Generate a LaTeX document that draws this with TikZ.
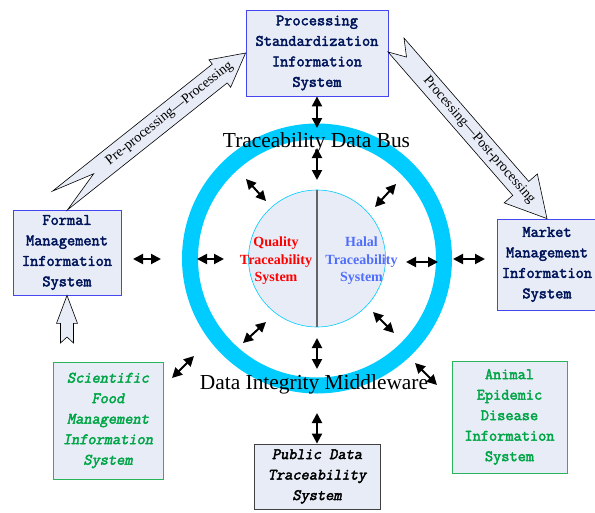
\documentclass[tikz,border=0pt]{standalone}
\usepackage{fontspec}
\setmainfont{Liberation Serif}
\newfontfamily\boxfam{Latin Modern Mono}[AutoFakeBold=2.6,AutoFakeSlant=0.2]
\usetikzlibrary{calc,arrows.meta}
\definecolor{boxfill}{RGB}{231,236,247}
\definecolor{boxblue}{RGB}{70,70,240}
\definecolor{navy}{RGB}{0,20,90}
\definecolor{boxgreen}{RGB}{40,180,90}
\definecolor{txtgreen}{RGB}{0,165,70}
\definecolor{ringcyan}{RGB}{0,204,255}
\definecolor{halalblue}{RGB}{80,110,250}
\definecolor{divgray}{RGB}{100,100,100}
\newcommand{\boxfnt}{\boxfam\bfseries\fontsize{15.9}{20.5}\selectfont}
\newcommand{\fatarrow}[6]{%
  \coordinate (fa-h) at ($(#2)!#4!(#1)$);
  \coordinate (fa-n) at ($(#1)!#6!(#2)$);
  \draw[fatarr] ($(#1)!#3!90:(#2)$) -- ($(fa-h)!#3!90:(#2)$) -- ($(fa-h)!#5!90:(#2)$) -- (#2)
     -- ($(fa-h)!#5!-90:(#2)$) -- ($(fa-h)!#3!-90:(#2)$) -- ($(#1)!#3!-90:(#2)$) -- (fa-n) -- cycle;}
\begin{document}
\begin{tikzpicture}[x=1pt,y=-1pt,
  sysbox/.style={draw=boxblue, fill=boxfill, line width=0.8pt, text=navy, font=\boxfnt, align=center, inner sep=0pt},
  greenbox/.style={sysbox, draw=boxgreen, text=txtgreen},
  graybox/.style={sysbox, draw=black!75, text=black},
  fatarr/.style={draw=black, fill=boxfill, line width=0.6pt, line join=miter},
  dbl/.style={{Triangle[length=10pt,width=10pt]}-{Triangle[length=10pt,width=10pt]}, line width=2pt},
  arrtext/.style={font=\fontsize{14}{14}\selectfont, sloped, inner sep=0pt},
  biglabel/.style={font=\fontsize{21.4}{24}\selectfont, inner sep=0pt, anchor=base},
  corelabel/.style={font=\bfseries\fontsize{14}{17.5}\selectfont, align=center, inner sep=0pt}]
\useasboundingbox (0,0) rectangle (595,512);

% ring and core
\coordinate (c) at (317,258.5);
\draw[ringcyan, line width=16pt] (c) circle[radius=127];
\node[circle, draw=ringcyan, fill=boxfill, minimum size=137pt, inner sep=0pt, line width=0.6pt] (core) at (c) {};
\draw[divgray, line width=1.5pt] (core.north) -- (core.south);
\node[corelabel, text=red] (qts) at (276,261) {Quality\\Traceability\\System};
\node[corelabel, text=halalblue] (hts) at (361.5,261) {Halal\\Traceability\\System};

% boxes
\node[sysbox, minimum width=142pt, minimum height=86pt] (proc) at (317,53) {Processing\\Standardization\\Information\\System};
\node[sysbox, minimum width=108pt, minimum height=85pt] (formal) at (67,252.5) {Formal\\Management\\Information\\System};
\node[sysbox, minimum width=100pt, minimum height=91pt] (mkt) at (547,264.5) {Market\\Management\\Information\\System};
\node[greenbox, minimum width=110pt, minimum height=117pt, font=\boxfnt\itshape] (sci) at (108,420.5) {Scientific\\Food\\Management\\Information\\System};
\node[greenbox, minimum width=115pt, minimum height=112pt] (ani) at (509.5,417) {Animal\\Epidemic\\Disease\\Information\\System};
\node[graybox, minimum width=126pt, minimum height=65pt, font=\boxfnt\itshape] (pub) at (317,476.5) {Public Data\\Traceability\\System};

% labels
\node[biglabel] (bus) at (316.5,147) {Traceability Data Bus};
\node[biglabel] (mid) at (314,389) {Data Integrity Middleware};

% fat arrows
\coordinate (t1) at (60,200.5);
\coordinate (t2) at (396,45);
\coordinate (t3) at (67,343);
\fatarrow{t1}{proc.west}{12pt}{33pt}{17.5pt}{43pt}
\path (t1) -- (proc.west) node[arrtext, pos=0.59] {Pre-processing\textemdash Processing};
\fatarrow{t2}{mkt.north}{10.6pt}{40pt}{22pt}{16pt}
\path (t2) -- (mkt.north) node[arrtext, pos=0.55] {Processing\textemdash Post-processing};
\fatarrow{t3}{formal.south}{6.5pt}{28pt}{10.5pt}{6pt}

% small double arrows
\coordinate (a1) at (317,128);
\coordinate (a2s) at (317,148); \coordinate (a2e) at (317,180);
\coordinate (a3s) at (246,179); \coordinate (a3e) at (266,201);
\coordinate (a4s) at (396,184); \coordinate (a4e) at (375,207);
\coordinate (a5s) at (197,259); \coordinate (a5e) at (224,259);
\coordinate (a6s) at (406,262); \coordinate (a6e) at (438,262);
\coordinate (a7s) at (266,322); \coordinate (a7e) at (243,343);
\coordinate (a8s) at (373,312); \coordinate (a8e) at (394,333);
\coordinate (a9s) at (317,338); \coordinate (a9e) at (317,369);
\coordinate (a10s) at (133,259); \coordinate (a10e) at (161,259);
\coordinate (a11s) at (453,259); \coordinate (a11e) at (485,259);
\coordinate (a12s) at (172,378); \coordinate (a12e) at (194,356);
\coordinate (a13s) at (415,363); \coordinate (a13e) at (437,385);
\coordinate (a14s) at (317,413);
\draw[dbl] (proc.south) -- (a1);
\draw[dbl] (a2s) -- (a2e);
\draw[dbl] (a3s) -- (a3e);
\draw[dbl] (a4s) -- (a4e);
\draw[dbl] (a5s) -- (a5e);
\draw[dbl] (a6s) -- (a6e);
\draw[dbl] (a7s) -- (a7e);
\draw[dbl] (a8s) -- (a8e);
\draw[dbl] (a9s) -- (a9e);
\draw[dbl] (a10s) -- (a10e);
\draw[dbl] (a11s) -- (a11e);
\draw[dbl] (a12s) -- (a12e);
\draw[dbl] (a13s) -- (a13e);
\draw[dbl] (a14s) -- (pub.north);
\end{tikzpicture}
\end{document}
